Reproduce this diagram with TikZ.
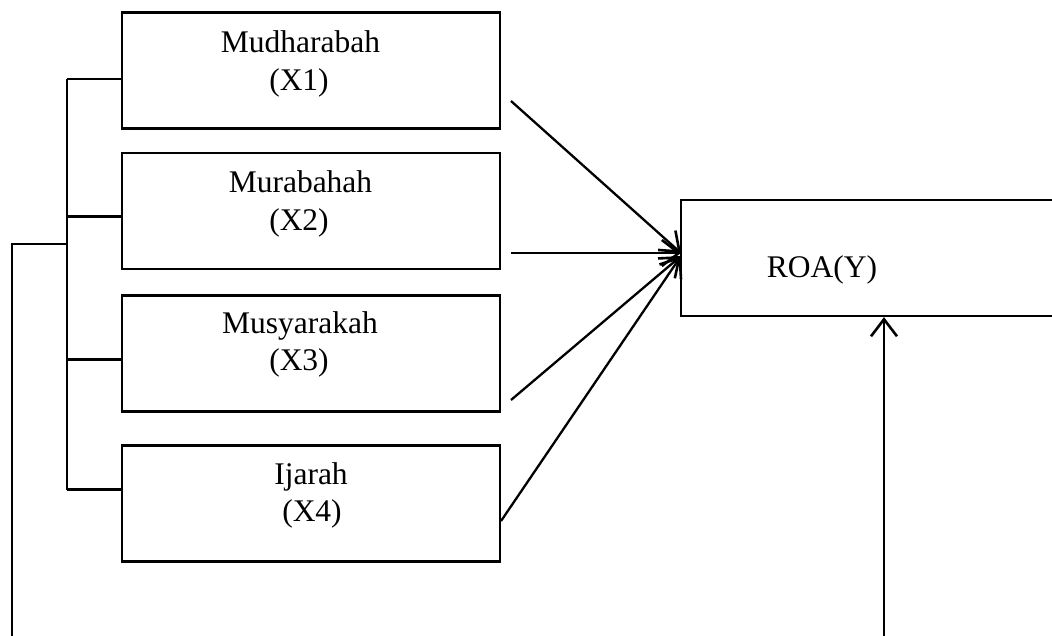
\documentclass[tikz,border=0pt]{standalone}
\usepackage{fontspec}
\setmainfont{Liberation Serif}
\usetikzlibrary{arrows.meta}
\begin{document}
\begin{tikzpicture}[x=1pt,y=-1pt,
  box/.style={draw,line width=2.3pt,minimum width=378pt,minimum height=116pt,inner sep=0pt},
  lbl/.style={anchor=base,inner sep=0pt,font=\fontsize{31.5}{36}\selectfont},
  ln/.style={line width=2.3pt},
  arr/.style={line width=2.3pt,-{Straight Barb[length=17pt,width=26pt,line width=2.6pt]}}]
\useasboundingbox (0,0) rectangle (1052,635);
\clip (0,0) rectangle (1052,635);
% boxes
\node[box] (x1) at (311,70.5) {};
\node[box] (x2) at (311,211) {};
\node[box] (x3) at (311,353.5) {};
\node[box] (x4) at (311,503.5) {};
\node[box,minimum width=420pt] (roa) at (891,258) {};
% labels
\node[lbl] (t1a) at (300.5,52) {Mudharabah};
\node[lbl] (t1b) at (299,90) {(X1)};
\node[lbl] (t2a) at (300.5,192) {Murabahah};
\node[lbl] (t2b) at (299,230) {(X2)};
\node[lbl] (t3a) at (300,333) {Musyarakah};
\node[lbl] (t3b) at (299,370) {(X3)};
\node[lbl] (t4a) at (311,484) {Ijarah};
\node[lbl] (t4b) at (312,521) {(X4)};
\node[lbl] (ty) at (822,277) {ROA(Y)};
% bracket
\coordinate (b1) at (67,79);
\coordinate (b2) at (67,216.5);
\coordinate (b3) at (67,359.5);
\coordinate (b4) at (67,489.5);
\coordinate (bj) at (67,244);
\coordinate (lt) at (12,244);
\coordinate (lb) at (12,640);
\draw[ln] (b1) -- (b4);
\draw[ln] (b1) -- (b1 -| x1.west);
\draw[ln] (b2) -- (b2 -| x2.west);
\draw[ln] (b3) -- (b3 -| x3.west);
\draw[ln] (b4) -- (b4 -| x4.west);
\draw[ln] (lb) -- (lt) -- (bj);
% arrows to ROA
\coordinate (s1) at (511,101);
\coordinate (s2) at (511,253);
\coordinate (s3) at (511,400);
\coordinate (s4) at (501,521);
\coordinate (e1) at (681,253);
\coordinate (e3) at (681,256);
\draw[arr] (s1) -- (e1);
\draw[arr] (s2) -- (e1);
\draw[arr] (s3) -- (e3);
\draw[arr] (s4) -- (e3);
\coordinate (bb) at (884,640);
\draw[arr] (bb) -- (bb |- roa.south);
\end{tikzpicture}
\end{document}
